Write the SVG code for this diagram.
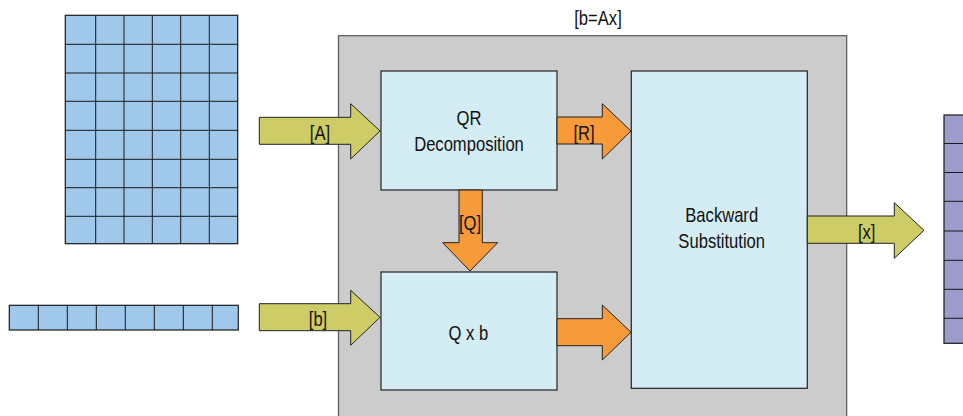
<svg xmlns="http://www.w3.org/2000/svg" width="963" height="416" viewBox="0 0 963 416">
<style>
.box{fill:#d4ecf3;stroke:#222;stroke-width:1.2}
.frame{fill:#cccccc;stroke:#555;stroke-width:1.2}
.ya{fill:#cecc66;stroke:#222;stroke-width:1}
.oa{fill:#f79a3a;stroke:#222;stroke-width:1}
.grid{stroke:#1a1a1a;stroke-width:1;fill:none}
text{font-family:"Liberation Sans",Arial,sans-serif;font-size:20px;fill:#111;text-anchor:middle}
</style>
<g id="matrixA">
<rect x="65.3" y="15.3" width="172.4" height="228.4" fill="#9fc8ea" stroke="#1a1a1a" stroke-width="1.2"/>
<path class="grid" d="M95.7 15.3V243.7M124 15.3V243.7M152.3 15.3V243.7M180.7 15.3V243.7M209.3 15.3V243.7M65.3 44.3H237.7M65.3 73H237.7M65.3 101.3H237.7M65.3 130.3H237.7M65.3 159.3H237.7M65.3 187.7H237.7M65.3 216.3H237.7"/>
</g>
<g id="vectorB">
<rect x="9.3" y="305.3" width="229" height="24.7" fill="#9fc8ea" stroke="#1a1a1a" stroke-width="1.2"/>
<path class="grid" d="M38.3 305.3V330M67.3 305.3V330M96.3 305.3V330M125.3 305.3V330M154.3 305.3V330M183.3 305.3V330M212.3 305.3V330"/>
</g>
<g id="vectorX">
<rect x="944" y="115" width="30" height="228.3" fill="#9b9bcc" stroke="#1a1a1a" stroke-width="1.2"/>
<path class="grid" d="M944 143.5H963M944 172.5H963M944 201.3H963M944 231H963M944 260.3H963M944 289.3H963M944 318.3H963"/>
</g>
<g id="system">
<rect x="338.5" y="35.7" width="508.2" height="400" class="frame"/>
<text transform="translate(598 25) scale(0.83 1)">[b=Ax]</text>
</g>
<g id="qr">
<rect x="381" y="71" width="176" height="119" class="box"/>
<text transform="translate(469 125) scale(0.83 1)">QR</text>
<text transform="translate(469 150.5) scale(0.83 1)">Decomposition</text>
</g>
<g id="qxb">
<rect x="381" y="272" width="176" height="118" class="box"/>
<text transform="translate(468.3 340) scale(0.83 1)" xml:space="preserve">Q x b</text>
</g>
<g id="backward">
<rect x="631.3" y="71" width="176" height="317.3" class="box"/>
<text transform="translate(721.7 222) scale(0.83 1)">Backward</text>
<text transform="translate(721.7 247.5) scale(0.83 1)">Substitution</text>
</g>
<g id="connectors">
<polygon class="ya" points="259.3,117.3 350.7,117.3 350.7,103.7 380,131 350.7,159 350.7,144.3 259.3,144.3"/>
<text transform="translate(320 139.5) scale(0.83 1)">[A]</text>
<polygon class="ya" points="259.3,303.7 350.7,303.7 350.7,290.3 380,317.3 350.7,345.3 350.7,330.7 259.3,330.7"/>
<text transform="translate(318 326) scale(0.83 1)">[b]</text>
<polygon class="oa" points="557,117 602.3,117 602.3,103.7 631,131 602.3,159 602.3,144 557,144"/>
<text transform="translate(584 139.5) scale(0.83 1)">[R]</text>
<polygon class="oa" points="459,190 482.3,190 482.3,242.7 497.7,242.7 470,271 442.7,242.7 459,242.7"/>
<text transform="translate(470 230) scale(0.83 1)">[Q]</text>
<polygon class="oa" points="557,318.7 602.3,318.7 602.3,305 631,332.3 602.3,360 602.3,345.7 557,345.7"/>
<polygon class="ya" points="807.3,216 894.3,216 894.3,202.7 924,230.3 894.3,258.3 894.3,243.3 807.3,243.3"/>
<text transform="translate(866.7 238.5) scale(0.83 1)">[x]</text>
</g>
</svg>
